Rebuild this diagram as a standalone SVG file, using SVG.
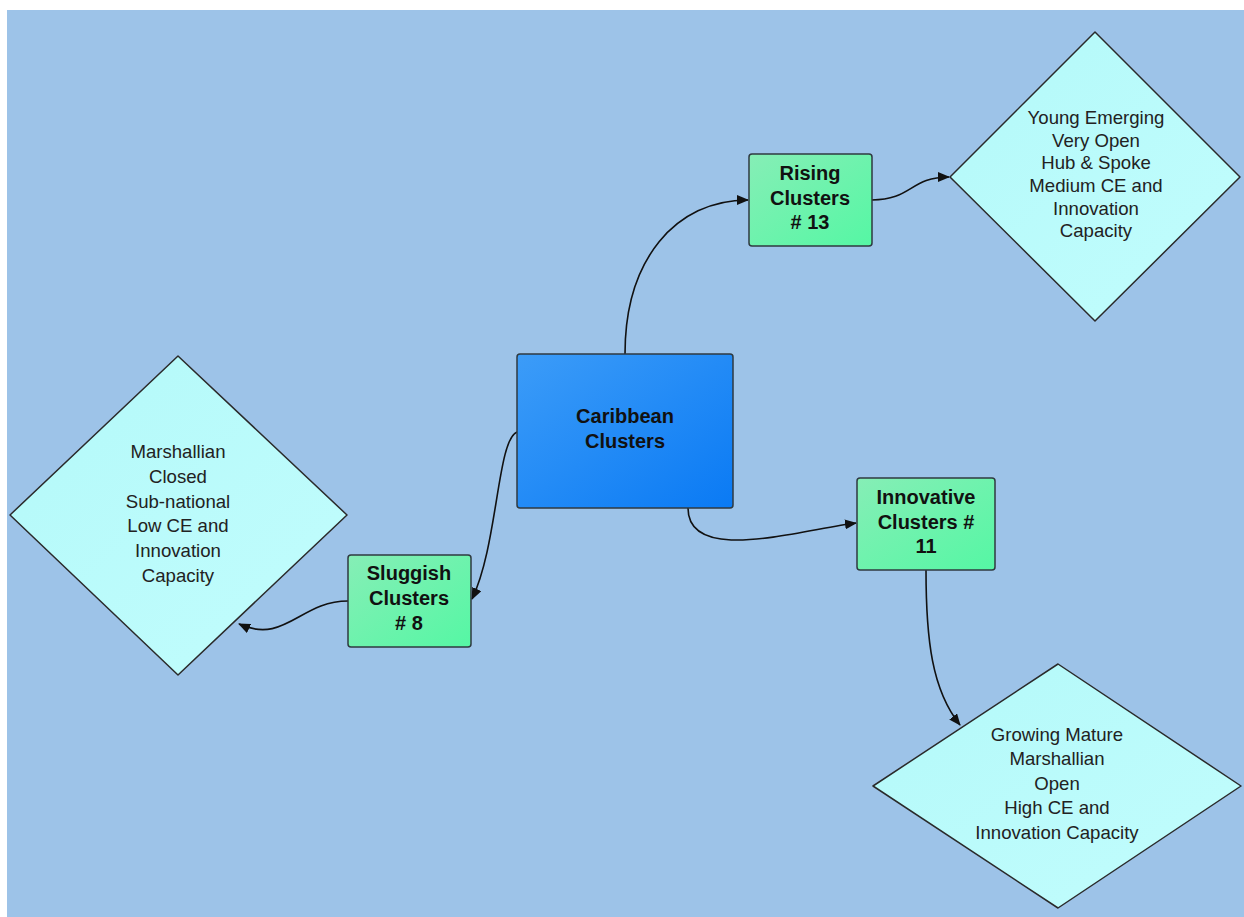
<svg xmlns="http://www.w3.org/2000/svg" width="1244" height="917" viewBox="0 0 1244 917">
<style>
.bold{font-family:"Liberation Sans",Arial,sans-serif;font-weight:bold;font-size:20px;fill:#111;text-anchor:middle}
.reg{font-family:"Liberation Sans",Arial,sans-serif;font-size:18.6px;fill:#222;text-anchor:middle}
.box{stroke:#2f3a40;stroke-width:1.5}
.dia{fill:url(#cyan);stroke:#2a2a2a;stroke-width:1.5;stroke-linejoin:round}
.edge{fill:none;stroke:#111;stroke-width:1.6}
</style>
<defs>
<linearGradient id="blue" x1="0" y1="0" x2="1" y2="1">
<stop offset="0" stop-color="#3c9cf8"/><stop offset="1" stop-color="#0a7af4"/>
</linearGradient>
<linearGradient id="green" x1="0" y1="0" x2="1" y2="1">
<stop offset="0" stop-color="#86eeb6"/><stop offset="1" stop-color="#55f7a4"/>
</linearGradient>
<linearGradient id="cyan" x1="0" y1="0" x2="1" y2="1">
<stop offset="0" stop-color="#b3f9f9"/><stop offset="1" stop-color="#c2fdfd"/>
</linearGradient>
<marker id="arr" viewBox="0 0 12 10" refX="11" refY="5" markerWidth="12" markerHeight="10" markerUnits="userSpaceOnUse" orient="auto">
<path d="M0,0 L12,5 L0,10 Z" fill="#111"/>
</marker>
</defs>
<rect x="7" y="10" width="1237" height="907" fill="#9dc3e8"/>
<g id="connectors">
<path class="edge" d="M625,354 C625,260 675,200 748,200" marker-end="url(#arr)"/>
<path class="edge" d="M872,200 C912,200 910,177 949,177" marker-end="url(#arr)"/>
<path class="edge" d="M517,432 C497,440 498,545 472,599" marker-end="url(#arr)"/>
<path class="edge" d="M348,601 C300,601 285,645 239,624" marker-end="url(#arr)"/>
<path class="edge" d="M688,508 C688,565 800,530 856,523" marker-end="url(#arr)"/>
<path class="edge" d="M926,570 C926,640 932,690 960,725" marker-end="url(#arr)"/>
</g>
<g id="caribbean">
<rect class="box" x="517" y="354" width="216" height="154" rx="3" fill="url(#blue)"/>
<text class="bold" x="625" y="423">Caribbean</text>
<text class="bold" x="625" y="448">Clusters</text>
</g>
<g id="rising">
<rect class="box" x="749" y="154" width="123" height="92" rx="3" fill="url(#green)"/>
<text class="bold" x="810" y="180">Rising</text>
<text class="bold" x="810" y="205">Clusters</text>
<text class="bold" x="810" y="229"># 13</text>
</g>
<g id="sluggish">
<rect class="box" x="348" y="555" width="123" height="92" rx="3" fill="url(#green)"/>
<text class="bold" x="409" y="580">Sluggish</text>
<text class="bold" x="409" y="605">Clusters</text>
<text class="bold" x="409" y="630"># 8</text>
</g>
<g id="innovative">
<rect class="box" x="857" y="478" width="138" height="92" rx="3" fill="url(#green)"/>
<text class="bold" x="926" y="504">Innovative</text>
<text class="bold" x="926" y="529">Clusters #</text>
<text class="bold" x="926" y="553">11</text>
</g>
<g id="young">
<polygon class="dia" points="1095,32 1240,177 1095,321 950,177"/>
<text class="reg" x="1096" y="124">Young Emerging</text>
<text class="reg" x="1096" y="147">Very Open</text>
<text class="reg" x="1096" y="169">Hub &amp; Spoke</text>
<text class="reg" x="1096" y="192">Medium CE and</text>
<text class="reg" x="1096" y="215">Innovation</text>
<text class="reg" x="1096" y="237">Capacity</text>
</g>
<g id="marshallian">
<polygon class="dia" points="178,356 347,515 178,675 10,515"/>
<text class="reg" x="178" y="458">Marshallian</text>
<text class="reg" x="178" y="483">Closed</text>
<text class="reg" x="178" y="508">Sub-national</text>
<text class="reg" x="178" y="532">Low CE and</text>
<text class="reg" x="178" y="557">Innovation</text>
<text class="reg" x="178" y="582">Capacity</text>
</g>
<g id="growing">
<polygon class="dia" points="1058,664 1241,786 1058,908 873,786"/>
<text class="reg" x="1057" y="741">Growing Mature</text>
<text class="reg" x="1057" y="765">Marshallian</text>
<text class="reg" x="1057" y="790">Open</text>
<text class="reg" x="1057" y="814">High CE and</text>
<text class="reg" x="1057" y="839">Innovation Capacity</text>
</g>
</svg>
